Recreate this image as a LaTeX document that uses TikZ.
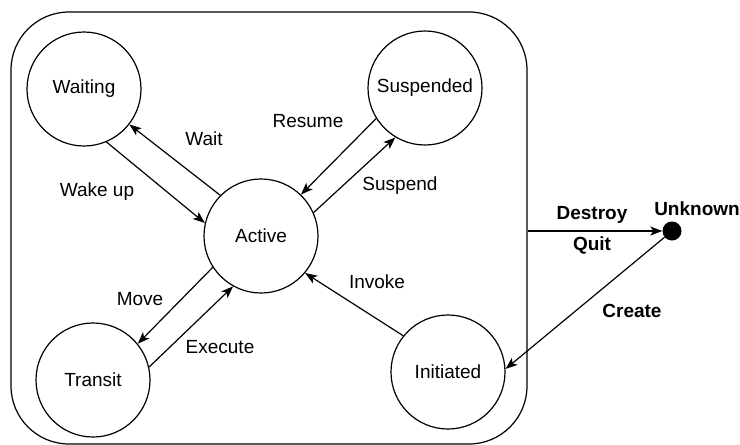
\documentclass[tikz,border=0pt]{standalone}
\usepackage{fontspec}
\setmainfont{Liberation Sans}
\usepackage{tikz}
\usetikzlibrary{arrows.meta}
\tikzstyle{State}=[circle, minimum size=114pt, inner sep=0pt, draw=black, line width=1.2pt, font=\fontsize{19}{22}\selectfont]
\tikzstyle{Trans}=[line width=1.2pt, -{Stealth[length=12pt, width=9pt, inset=3pt]}]
\tikzstyle{Label}=[font=\fontsize{19}{22}\selectfont]

\begin{document}
\begin{tikzpicture}[x=1pt, y=-1pt]
    \useasboundingbox (0,0) rectangle (740,445);
    \path
    (269,228) node[rectangle, rounded corners=58pt, minimum width=516pt, minimum height=432pt, draw=black, line width=1.2pt] (system) {}
    (84,89) node[State] (waiting) {Waiting}
    (425,88) node[State] (suspended) {Suspended}
    (261,236) node[State] (active) {Active}
    (93,380) node[State] (transit) {Transit}
    (448,372) node[State] (initiated) {Initiated}
    (672,231) node[circle, fill=black, minimum size=19pt, inner sep=0pt] (unknown) {};

    \path
    (204,139) node[Label] (lwait) {Wait}
    (97,192) node[Label] (lwake) {Wake up}
    (308,121) node[Label] (lresume) {Resume}
    (400,186) node[Label] (lsuspend) {Suspend}
    (140,299) node[Label] (lmove) {Move}
    (220,347) node[Label] (lexecute) {Execute}
    (377,282) node[Label] (linvoke) {Invoke}
    (592,215) node[Label, font=\fontsize{19}{22}\selectfont\bfseries] (ldestroy) {Destroy}
    (592,245) node[Label, font=\fontsize{19}{22}\selectfont\bfseries] (lquit) {Quit}
    (632,311) node[Label, font=\fontsize{19}{22}\selectfont\bfseries] (lcreate) {Create}
    (697,209) node[Label, font=\fontsize{19}{22}\selectfont\bfseries] (lunknown) {Unknown};

    \draw[Trans] (active.135) -- (waiting.-38);
    \draw[Trans] (waiting.-67) -- (active.167);
    \draw[Trans] (suspended.212) -- (active.46);
    \draw[Trans] (active.24) -- (suspended.239);
    \draw[Trans] (active.213) -- (transit.39);
    \draw[Trans] (transit.13) -- (active.241);
    \draw[Trans] (initiated.141) -- (active.-40);
    \draw[Trans] (system.east |- unknown.center) -- (unknown);
    \draw[Trans] (unknown.220) -- (initiated.3);
\end{tikzpicture}
\end{document}
